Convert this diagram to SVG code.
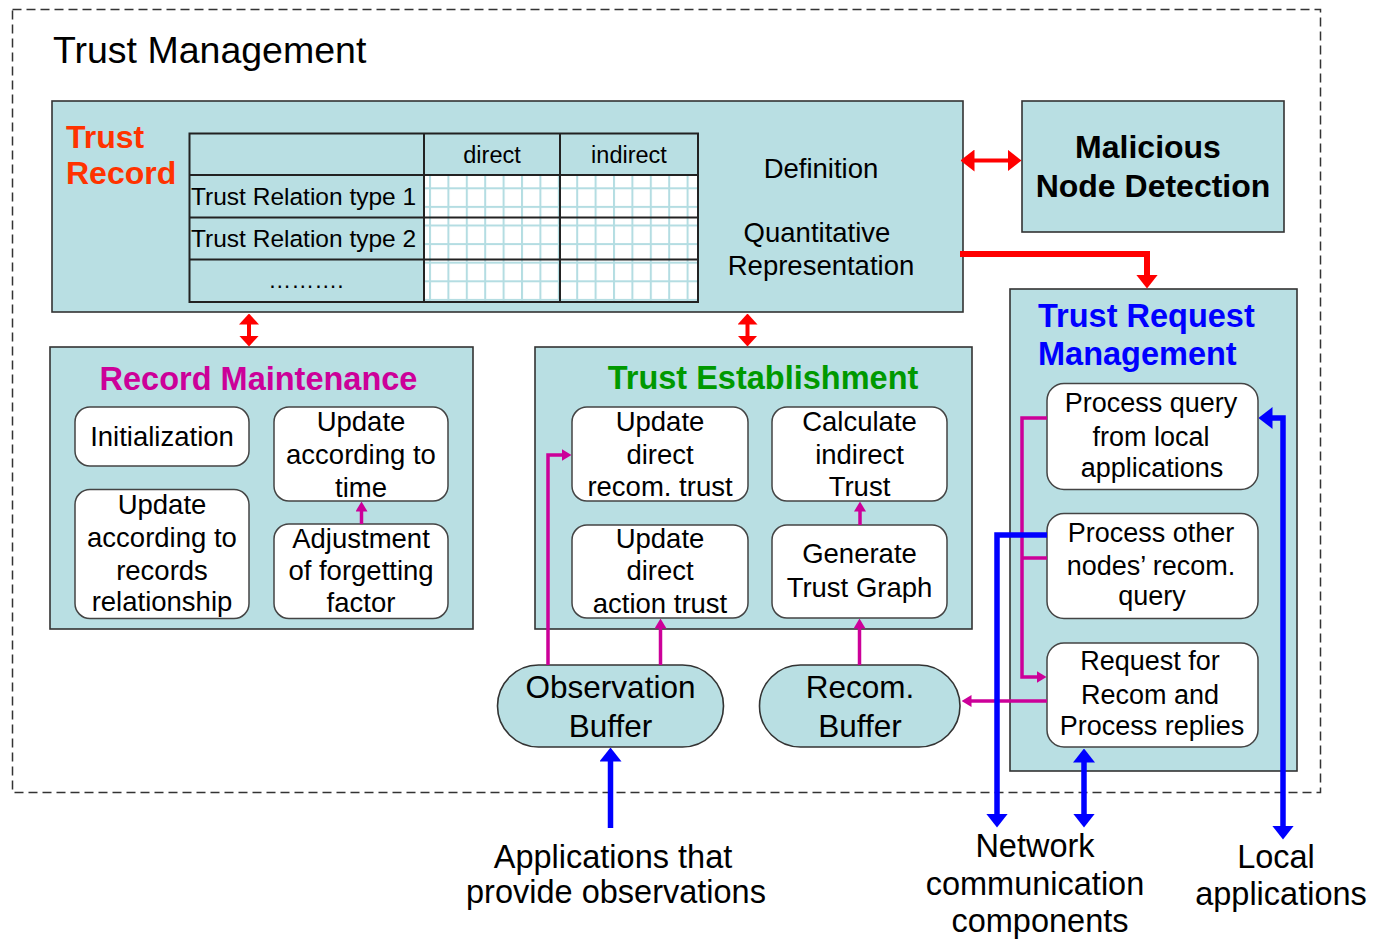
<svg xmlns="http://www.w3.org/2000/svg" width="1381" height="939" viewBox="0 0 1381 939">
<defs>
<style>
.t{font-family:"Liberation Sans",Arial,sans-serif;fill:#000}
.b{font-family:"Liberation Sans",Arial,sans-serif;font-weight:bold}
.c{text-anchor:middle}
.box{fill:#b9dfe3;stroke:#333;stroke-width:1.6}
.rb{fill:#fff;stroke:#444;stroke-width:1.5}
.tx{font-size:27.5px}
.tq{font-size:27px}
.ttl{font-size:32.5px}
.tbl{fill:none;stroke:#222;stroke-width:2}
.mag{fill:none;stroke:#cc0099;stroke-width:3.5}
.blu{fill:none;stroke:#0000ff;stroke-width:5.5}
.red{fill:none;stroke:#ff0000}
</style>
<pattern id="grid" patternUnits="userSpaceOnUse" x="429" y="187.3" width="18.4" height="18.6">
<rect width="18.4" height="18.6" fill="#fff"/>
<rect width="2" height="18.6" fill="#b4dde2"/>
<rect width="18.4" height="2" fill="#b4dde2"/>
</pattern>
<marker id="hb" viewBox="0 0 14 22" refX="0.5" refY="11" markerWidth="14" markerHeight="22" markerUnits="userSpaceOnUse" orient="auto-start-reverse"><path d="M0,0 L14,11 L0,22 Z" fill="#0000ff"/></marker>
<marker id="hr" viewBox="0 0 14 22" refX="0.5" refY="11" markerWidth="14" markerHeight="22" markerUnits="userSpaceOnUse" orient="auto-start-reverse"><path d="M0,0 L14,11 L0,22 Z" fill="#ff0000"/></marker>
<marker id="hrs" viewBox="0 0 11 20" refX="0.5" refY="10" markerWidth="11" markerHeight="20" markerUnits="userSpaceOnUse" orient="auto-start-reverse"><path d="M0,0 L11,10 L0,20 Z" fill="#ff0000"/></marker>
<marker id="hm" viewBox="0 0 10 12" refX="0.5" refY="6" markerWidth="10" markerHeight="12" markerUnits="userSpaceOnUse" orient="auto-start-reverse"><path d="M0,0 L10,6 L0,12 Z" fill="#cc0099"/></marker>
</defs>
<rect width="1381" height="939" fill="#fff"/>

<g id="trust-management">
<rect x="12.5" y="9.5" width="1308" height="783" fill="none" stroke="#333" stroke-width="1.5" stroke-dasharray="9 5"/>
<text class="t" x="53" y="63" font-size="37.5">Trust Management</text>
</g>

<g id="trust-record">
<rect class="box" x="52" y="101" width="911" height="211"/>
<text class="b" x="66" y="147.5" font-size="32" fill="#ff3300">Trust</text>
<text class="b" x="66" y="184" font-size="32" fill="#ff3300">Record</text>
<rect x="424" y="175" width="274" height="127" fill="url(#grid)"/>
<rect class="tbl" x="189.5" y="133.5" width="508.5" height="168.5"/>
<path class="tbl" d="M424,133.5 V302 M560,133.5 V302 M189.5,175 H698 M189.5,217.5 H698 M189.5,259.5 H698"/>
<text class="t c" x="492" y="163" font-size="23.5">direct</text>
<text class="t c" x="629" y="163" font-size="23.5">indirect</text>
<text class="t" x="191" y="205" font-size="24.5">Trust Relation type 1</text>
<text class="t" x="191" y="246.5" font-size="24.5">Trust Relation type 2</text>
<text class="t c" x="306" y="288" font-size="23">……….</text>
<text class="t c tx" x="821" y="177.5">Definition</text>
<text class="t c tx" x="817" y="241.5">Quantitative</text>
<text class="t c tx" x="821" y="275">Representation</text>
</g>

<g id="malicious-node-detection">
<rect class="box" x="1022" y="101" width="262" height="131"/>
<text class="b c" x="1148" y="158" font-size="32">Malicious</text>
<text class="b c" x="1153" y="196.5" font-size="32">Node Detection</text>
</g>

<g id="record-maintenance">
<rect class="box" x="50" y="347" width="423" height="282"/>
<text class="b c ttl" x="258.5" y="390" fill="#cc0099">Record Maintenance</text>
</g>
<g id="initialization">
<rect class="rb" x="75" y="407" width="174" height="59" rx="15"/>
<text class="t c tx" x="162" y="446">Initialization</text>
</g>
<g id="update-time">
<rect class="rb" x="274" y="407" width="174" height="94" rx="15"/>
<text class="t c tx" x="361" y="430.5">Update</text>
<text class="t c tx" x="361" y="464">according to</text>
<text class="t c tx" x="361" y="496.5">time</text>
</g>
<g id="update-records">
<rect class="rb" x="75" y="489.5" width="174" height="129" rx="15"/>
<text class="t c tx" x="162" y="514">Update</text>
<text class="t c tx" x="162" y="546.5">according to</text>
<text class="t c tx" x="162" y="580">records</text>
<text class="t c tx" x="162" y="610.5">relationship</text>
</g>
<g id="forgetting-factor">
<rect class="rb" x="274" y="524" width="174" height="94.5" rx="15"/>
<text class="t c tx" x="361" y="547.5">Adjustment</text>
<text class="t c tx" x="361" y="579.5">of forgetting</text>
<text class="t c tx" x="361" y="611.5">factor</text>
</g>

<g id="trust-establishment">
<rect class="box" x="535" y="347" width="437" height="282"/>
<text class="b c ttl" x="763" y="388.5" fill="#009900">Trust Establishment</text>
</g>
<g id="update-direct-recom">
<rect class="rb" x="572" y="407" width="176" height="94" rx="15"/>
<text class="t c tx" x="660" y="431">Update</text>
<text class="t c tx" x="660" y="464">direct</text>
<text class="t c tx" x="660" y="496">recom. trust</text>
</g>
<g id="calculate-indirect">
<rect class="rb" x="772" y="407" width="175" height="94" rx="15"/>
<text class="t c tx" x="859.5" y="431">Calculate</text>
<text class="t c tx" x="859.5" y="464">indirect</text>
<text class="t c tx" x="859.5" y="496">Trust</text>
</g>
<g id="update-direct-action">
<rect class="rb" x="572" y="525" width="176" height="93" rx="15"/>
<text class="t c tx" x="660" y="547.5">Update</text>
<text class="t c tx" x="660" y="580">direct</text>
<text class="t c tx" x="660" y="613">action trust</text>
</g>
<g id="generate-graph">
<rect class="rb" x="772" y="525" width="175" height="93" rx="15"/>
<text class="t c tx" x="859.5" y="562.5">Generate</text>
<text class="t c tx" x="859.5" y="596.5">Trust Graph</text>
</g>

<g id="trust-request-management">
<rect class="box" x="1010" y="289" width="287" height="482"/>
<text class="b ttl" x="1038" y="326.5" fill="#0000ff">Trust Request</text>
<text class="b ttl" x="1038" y="365" fill="#0000ff">Management</text>
</g>
<g id="process-local-query">
<rect class="rb" x="1047" y="383.5" width="211" height="106" rx="17"/>
<text class="t c tq" x="1151" y="411.5">Process query</text>
<text class="t c tq" x="1151" y="445.5">from local</text>
<text class="t c tq" x="1152" y="476.5">applications</text>
</g>
<g id="process-recom-query">
<rect class="rb" x="1047" y="513.5" width="211" height="105" rx="17"/>
<text class="t c tq" x="1151" y="541.5">Process other</text>
<text class="t c tq" x="1151" y="575">nodes’ recom.</text>
<text class="t c tq" x="1152" y="605">query</text>
</g>
<g id="request-recom">
<rect class="rb" x="1047" y="643" width="211" height="104" rx="17"/>
<text class="t c tq" x="1150" y="670">Request for</text>
<text class="t c tq" x="1150" y="704">Recom and</text>
<text class="t c tq" x="1152" y="735">Process replies</text>
</g>

<g id="observation-buffer">
<rect class="box" x="497.5" y="665" width="226" height="82" rx="41"/>
<text class="t c" x="610.5" y="698" font-size="31.5">Observation</text>
<text class="t c" x="610.5" y="736.5" font-size="31.5">Buffer</text>
</g>
<g id="recom-buffer">
<rect class="box" x="759.5" y="665" width="200.5" height="82" rx="41"/>
<text class="t c" x="860" y="698" font-size="31.5">Recom.</text>
<text class="t c" x="860" y="736.5" font-size="31.5">Buffer</text>
</g>

<g id="observation-apps">
<text class="t c" x="613" y="868" font-size="32.5">Applications that</text>
<text class="t c" x="616" y="903" font-size="32.5">provide observations</text>
</g>
<g id="network-components">
<text class="t c" x="1035" y="857" font-size="32.5">Network</text>
<text class="t c" x="1035" y="895" font-size="32.5">communication</text>
<text class="t c" x="1040" y="932" font-size="32.5">components</text>
</g>
<g id="local-apps">
<text class="t c" x="1276" y="868" font-size="32.5">Local</text>
<text class="t c" x="1281" y="905" font-size="32.5">applications</text>
</g>

<g id="connectors">
<path class="red" stroke-width="4" d="M974,160.5 H1008" marker-start="url(#hr)" marker-end="url(#hr)"/>
<path class="red" stroke-width="6" d="M960,254 H1147 V275" marker-end="url(#hr)"/>
<path class="red" stroke-width="4" d="M249,324 V336" marker-start="url(#hrs)" marker-end="url(#hrs)"/>
<path class="red" stroke-width="4" d="M747.5,324 V336" marker-start="url(#hrs)" marker-end="url(#hrs)"/>
<path class="mag" d="M361.5,524 V511" marker-end="url(#hm)"/>
<path class="mag" d="M860,525 V511" marker-end="url(#hm)"/>
<path class="mag" d="M548,665 V455 H562" marker-end="url(#hm)"/>
<path class="mag" d="M660.5,665 V628" marker-end="url(#hm)"/>
<path class="mag" d="M859.5,665 V628" marker-end="url(#hm)"/>
<path class="mag" d="M1047,418 H1022 V677 H1037" marker-end="url(#hm)"/>
<path class="mag" d="M1022,558 H1047"/>
<path class="mag" d="M1047,701 H971" marker-end="url(#hm)"/>
<path class="blu" d="M610.5,828 V761" marker-end="url(#hb)"/>
<path class="blu" d="M1047,535 H997 V814" marker-end="url(#hb)"/>
<path class="blu" d="M1084,762 V814" marker-start="url(#hb)" marker-end="url(#hb)"/>
<path class="blu" d="M1272,418 H1283 V826" marker-start="url(#hb)" marker-end="url(#hb)"/>
</g>
</svg>
